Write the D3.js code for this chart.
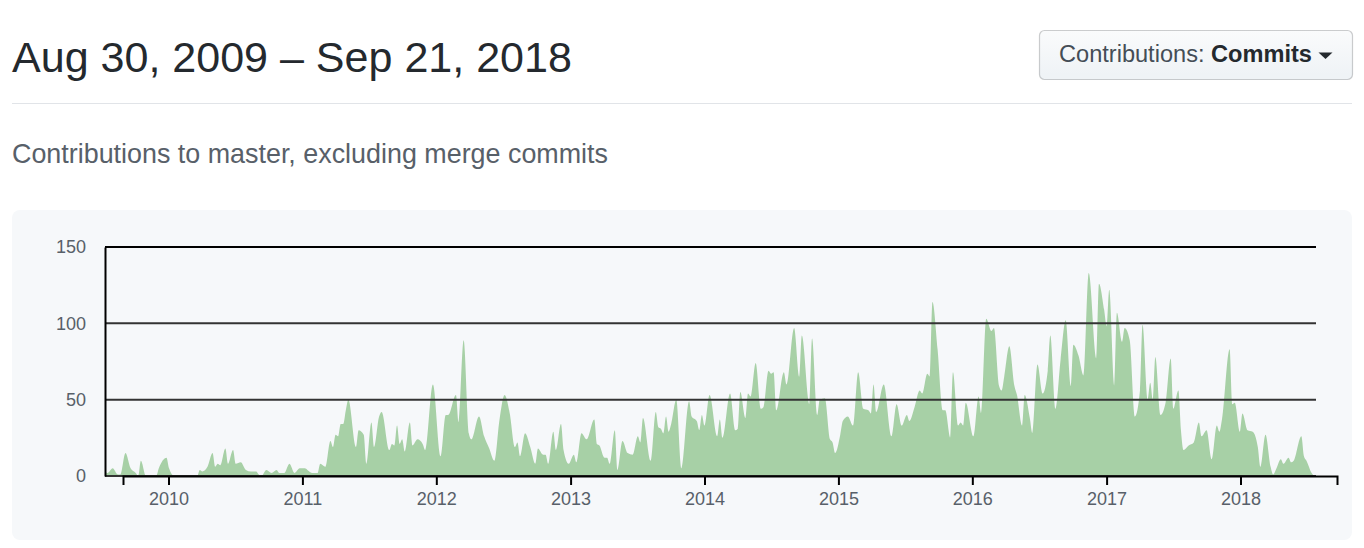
<!DOCTYPE html>
<html><head><meta charset="utf-8">
<script src="https://cdn.jsdelivr.net/npm/d3@7"></script>
<style>
html,body{margin:0;padding:0;background:#fff;}
svg{display:block;font-family:"Liberation Sans",Arial,Helvetica,sans-serif;}
</style></head><body>
<svg id="c" width="1364" height="548"></svg>
<script>
// ---------- data ----------
const titleText = "Aug 30, 2009 \u2013 Sep 21, 2018";
const subtitleText = "Contributions to master, excluding merge commits";
const buttonLabel = "Contributions: ";
const buttonValue = "Commits";
const startDate = "2009-08-30";
const endDate = "2018-09-21";
// week number since start date (key points)
const weeks = [0,1,3,5,6,8,10,12,13,14,16,20,21,24,25,27,36,37,38,40,42,43,44,45,47,48,50,51,53,55,57,59,60,61,63,65,67,68,70,72,74,76,78,79,81,83,84,86,88,89,90,91,92,93,94,95,
98,99,101,102,104,105,107,108,111,112,113,114,115,116,117,119,120,122,124,125,128,131,133,134,137,138,140,142,143,146,148,150,152,154,156,158,160,161,162,164,166,168,169,171,172,173,175,176,178,179,181,183,184,186,188,191,
192,193,195,196,197,199,200,202,204,206,208,209,210,213,215,216,217,218,219,220,221,223,225,228,229,231,232,233,234,236,239,240,241,244,246,247,248,250,251,252,254,256,257,259,260,261,262,265,266,269,271,272,275,276,278,279,281,283,284,285,287,
288,290,292,294,296,298,299,300,301,304,307,309,311,313,314,316,318,319,321,322,323,325,327,328,330,331,333,334,335,336,339,341,342,344,346,347,349,350,351,353,355,356,358,359,361,362,364,366,368,369,371,373,375,377,378,380,
382,384,387,388,390,391,392,394,395,397,398,400,402,404,405,407,408,409,410,412,414,416,417,419,420,421,423,425,427,428,430,432,434,435,436,439,440,441,443,444,446,448,450,451,453,455,456,457,459,460,462,463,464,467,468,469,471,472];
const commits = [3,2,5,1,1,15,5,2,0,10,0,0,5,12,5,0,0,4,3,6,15,6,8,7,18,8,17,8,9,4,3,3,1,0,4,2,4,2,2,8,2,5,5,4,2,2,8,6,23,19,27,26,34,34,43,50,
19,30,27,8,35,19,39,42,17,21,20,33,21,24,16,35,20,24,21,17,60,13,40,40,53,35,89,28,24,39,26,18,10,37,53,41,19,22,13,28,19,8,18,14,14,8,29,17,34,17,8,14,9,28,24,37,
21,20,12,12,8,30,4,23,15,14,26,22,38,10,42,32,31,28,39,29,34,50,5,49,39,36,30,40,33,53,26,37,25,54,30,31,55,38,54,52,74,44,45,69,67,68,43,68,60,97,65,92,47,90,40,50,51,24,22,15,27,
36,39,33,68,44,43,41,60,42,60,26,47,33,40,36,45,56,54,67,65,114,83,43,43,25,68,33,35,33,48,26,52,41,103,95,97,59,56,65,85,59,53,33,53,38,28,73,54,69,92,44,76,102,59,86,79,
66,133,77,126,109,98,122,59,107,88,97,89,39,56,99,50,61,50,78,40,48,77,44,56,30,17,20,22,35,26,30,11,33,29,37,83,47,48,29,41,30,29,19,6,27,6,1,4,11,8,12,9,10,26,13,10,2,0];
const yTicks = [0, 50, 100, 150];
const yearTicks = [2010, 2011, 2012, 2013, 2014, 2015, 2016, 2017, 2018];

// ---------- layout ----------
const svg = d3.select("#c");
const plot = {left: 105, right: 1316, top: 247, bottom: 476};
const axisRange = [123, 1337];

const t0 = d3.isoParse(startDate), t1 = d3.isoParse(endDate);
const points = weeks.map((w, i) => ({date: d3.timeDay.offset(t0, w * 7), value: commits[i]}));

function fitText(sel, target) {
  const fs = parseFloat(sel.attr("font-size"));
  const len = sel.node().getComputedTextLength();
  sel.attr("font-size", (fs * target / len).toFixed(2));
}

// title
const title = svg.append("text").attr("x", 12).attr("y", 72)
  .attr("font-size", 43).attr("fill", "#24292e").text(titleText);
fitText(title, 560);

// button
const defs = svg.append("defs");
const grad = defs.append("linearGradient").attr("id", "btn").attr("x1", 0).attr("y1", 0).attr("x2", 0).attr("y2", 1);
grad.append("stop").attr("offset", "0%").attr("stop-color", "#fafbfc");
grad.append("stop").attr("offset", "90%").attr("stop-color", "#eff3f6");
svg.append("rect").attr("x", 1039.5).attr("y", 30.5).attr("width", 313).attr("height", 49).attr("rx", 5)
  .attr("fill", "url(#btn)").attr("stroke", "rgba(27,31,35,0.22)").attr("stroke-width", 1.2);
const btnText = svg.append("text").attr("x", 1059).attr("y", 61.5).attr("font-size", 20).attr("fill", "#24292e");
btnText.append("tspan").attr("fill", "#444d56").text(buttonLabel);
btnText.append("tspan").attr("font-weight", "bold").text(buttonValue);
fitText(btnText, 253);
svg.append("path").attr("d", "M1318.5,52.5 L1332.5,52.5 L1325.5,59 Z").attr("fill", "#24292e");

// rule
svg.append("line").attr("x1", 12).attr("x2", 1352).attr("y1", 103.5).attr("y2", 103.5)
  .attr("stroke", "#e1e4e8").attr("stroke-width", 1.2);

// subtitle
const sub = svg.append("text").attr("x", 12).attr("y", 163)
  .attr("font-size", 24).attr("fill", "#586069").text(subtitleText);
fitText(sub, 596);

// panel
svg.append("rect").attr("x", 12).attr("y", 210).attr("width", 1340).attr("height", 330).attr("rx", 8)
  .attr("fill", "#f6f8fa");

// scales
const xArea = d3.scaleTime().domain([t0, t1]).range([plot.left, plot.right]);
const xAxisScale = d3.scaleTime().domain([t0, t1]).range(axisRange);
const y = d3.scaleLinear().domain([0, 150]).range([plot.bottom, plot.top]);

// area
const area = d3.area().x(d => xArea(d.date)).y0(y(0)).y1(d => y(d.value)).curve(d3.curveMonotoneX);
svg.append("path").datum(points).attr("d", area).attr("fill", "#a7d0a6");

// gridlines
svg.append("g").selectAll("line").data(yTicks).join("line")
  .attr("x1", plot.left).attr("x2", plot.right)
  .attr("y1", d => y(d)).attr("y2", d => y(d))
  .attr("stroke", d => d === 150 ? "#000" : "#333").attr("stroke-width", 2);

// y axis
const yAxis = svg.append("g").attr("transform", `translate(${plot.left},0)`)
  .call(d3.axisLeft(y).tickValues(yTicks).tickSize(0).tickPadding(19).tickSizeOuter(0));
yAxis.select(".domain").attr("stroke", "#000").attr("stroke-width", 2);
yAxis.selectAll("text").attr("font-size", 18).attr("fill", "#586069")
  .attr("font-family", "'Liberation Sans',Arial,Helvetica,sans-serif");

// x axis
const xAxis = svg.append("g").attr("transform", `translate(0,${plot.bottom})`)
  .call(d3.axisBottom(xAxisScale)
    .tickValues(yearTicks.map(yr => new Date(yr, 0, 1)))
    .tickFormat(d3.timeFormat("%Y")).tickSize(9).tickSizeOuter(9).tickPadding(7));
xAxis.select(".domain").attr("stroke", "#000").attr("stroke-width", 2);
xAxis.selectAll(".tick line").attr("stroke", "#000").attr("stroke-width", 2);
xAxis.selectAll("text").attr("font-size", 18).attr("fill", "#586069")
  .attr("font-family", "'Liberation Sans',Arial,Helvetica,sans-serif");
</script>
</body></html>
